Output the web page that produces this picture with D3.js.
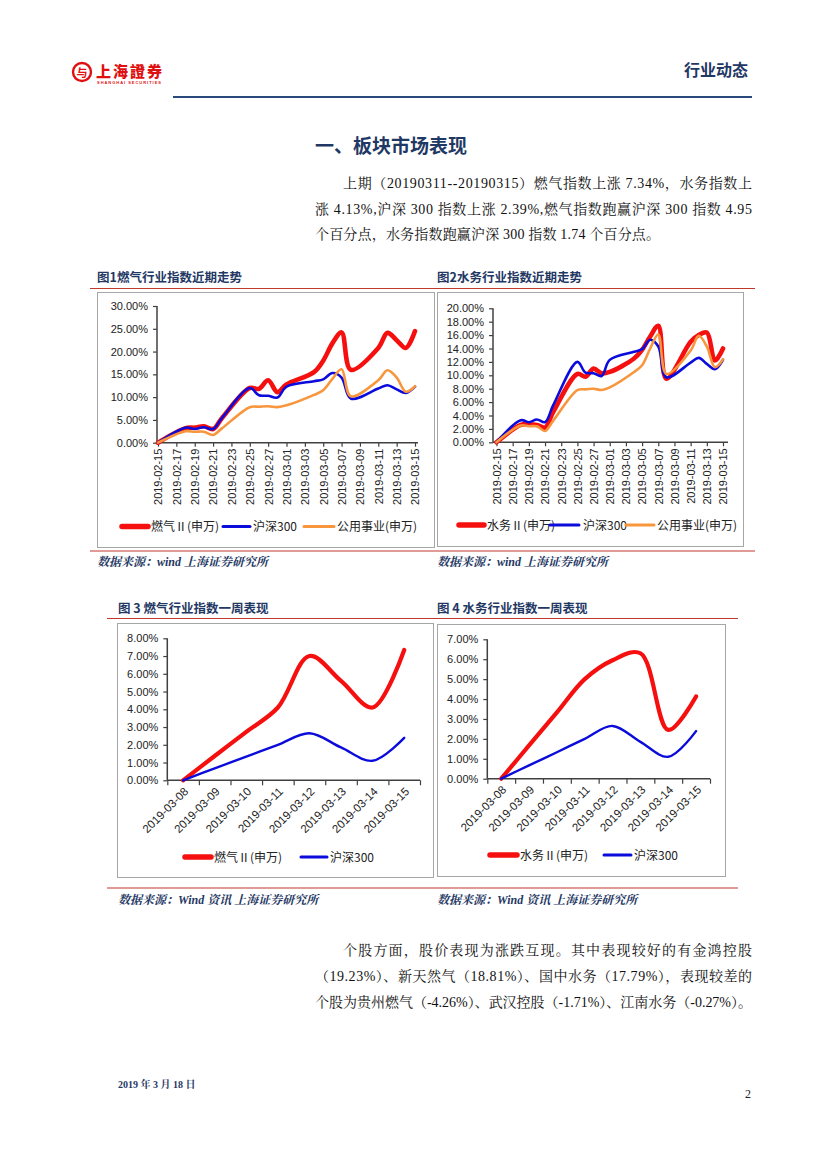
<!DOCTYPE html>
<html><head><meta charset="utf-8">
<script src="https://cdn.jsdelivr.net/npm/d3@7"></script>
<style>body{margin:0;background:#fff}</style>
</head><body><svg id="page" width="827" height="1169"></svg>
<script>
// ---------- data ----------
const trendDates = ["2019-02-15","2019-02-18","2019-02-19","2019-02-20","2019-02-21","2019-02-22","2019-02-25","2019-02-26","2019-02-27","2019-02-28","2019-03-01","2019-03-04","2019-03-05","2019-03-06","2019-03-07","2019-03-08","2019-03-11","2019-03-12","2019-03-13","2019-03-14","2019-03-15"];
const gasTrend   = [0, 3.2, 3.3, 3.6, 3.0, 5.5, 12.0, 11.8, 13.7, 11.1, 12.8, 15.5, 18.0, 21.8, 24.2, 16.0, 20.8, 24.1, 22.5, 20.8, 24.5];
const hs300Trend = [0, 3.3, 3.0, 3.4, 3.0, 5.5, 12.0, 10.4, 10.3, 9.9, 12.3, 13.5, 13.9, 15.3, 14.3, 9.7, 11.9, 12.6, 11.7, 10.9, 12.3];
const utilTrend  = [0, 2.5, 2.4, 2.4, 1.7, 3.2, 7.8, 7.9, 8.0, 7.8, 8.2, 10.5, 11.5, 14.0, 16.1, 10.2, 13.7, 15.9, 14.3, 11.2, 12.4];
const waterTrend = [0, 2.6, 2.7, 2.6, 2.2, 4.5, 10.2, 9.8, 11.0, 10.3, 10.5, 12.5, 13.8, 15.8, 17.4, 9.5, 15.0, 16.0, 16.4, 12.2, 14.0];

const weekDates = ["2019-03-08","2019-03-09","2019-03-10","2019-03-11","2019-03-12","2019-03-13","2019-03-14","2019-03-15"];
const gasWeek   = [0, 1.37, 2.73, 4.1, 7.0, 5.6, 4.1, 7.34];
const hs300Week = [0, 0.67, 1.33, 2.0, 2.65, 1.85, 1.1, 2.39];
const waterWeek = [0, 1.67, 3.33, 5.0, 5.95, 6.3, 2.45, 4.13];

const yTicks1 = [0, 5, 10, 15, 20, 25, 30];
const yTicks2 = [0, 2, 4, 6, 8, 10, 12, 14, 16, 18, 20];
const yTicks3 = [0, 1, 2, 3, 4, 5, 6, 7, 8];
const yTicks4 = [0, 1, 2, 3, 4, 5, 6, 7];

const legend1 = ["燃气Ⅱ(申万)", "沪深300", "公用事业(申万)"];
const legend2 = ["水务Ⅱ(申万)", "沪深300", "公用事业(申万)"];
const legend3 = ["燃气Ⅱ(申万)", "沪深300"];
const legend4 = ["水务Ⅱ(申万)", "沪深300"];

// ---------- styles ----------
const RED = "#F50F0F", BLUE = "#0B0BDB", ORANGE = "#F7963C";
const NAVY = "#1F3864";
const AX = "#404040";
const LAT = "'Liberation Sans', Arial, 'Noto Sans CJK SC', sans-serif";
const SER = "'Liberation Serif', 'Noto Serif CJK SC', 'Noto Sans CJK SC', serif";
const CJK = "'Noto Sans CJK SC', sans-serif";

const svg = d3.select("#page");
const parse = d3.timeParse("%Y-%m-%d");

// ---------- header ----------
const logo = svg.append("g");
logo.append("circle").attr("cx", 82).attr("cy", 72).attr("r", 9).attr("fill", "none").attr("stroke", "#E01010").attr("stroke-width", 2.4);
logo.append("text").attr("x", 82).attr("y", 76.5).attr("text-anchor", "middle").attr("font-family", CJK).attr("font-weight", "bold").attr("font-size", 11).attr("fill", "#E01010").text("与");
logo.append("text").attr("x", 96).attr("y", 77).attr("font-family", "'Noto Sans CJK TC', sans-serif").attr("font-weight", "900").attr("font-size", 15).attr("fill", "#E01010").attr("textLength", 66).text("上海證券");
logo.append("text").attr("x", 97).attr("y", 84).attr("font-family", LAT).attr("font-weight", "bold").attr("font-size", 4).attr("fill", "#E01010").attr("textLength", 64).text("SHANGHAI SECURITIES");
svg.append("text").attr("x", 748).attr("y", 76).attr("text-anchor", "end").attr("font-family", CJK).attr("font-weight", "bold").attr("font-size", 16).attr("fill", NAVY).text("行业动态");
svg.append("line").attr("x1", 173).attr("x2", 752).attr("y1", 97).attr("y2", 97).attr("stroke", "#2A4A7B").attr("stroke-width", 2.2);

// ---------- title & paragraph ----------
svg.append("text").attr("x", 315).attr("y", 153).attr("font-family", CJK).attr("font-weight", "bold").attr("font-size", 19).attr("fill", NAVY).text("一、板块市场表现");

function para(x, y, w, s) {
  const t = svg.append("text").attr("x", x).attr("y", y).attr("font-family", SER).attr("font-size", 14).attr("fill", "#111").text(s);
  if (w) t.attr("textLength", w).attr("lengthAdjust", "spacing");
}
para(343, 188, 409, "上期（20190311--20190315）燃气指数上涨 7.34%，水务指数上");
para(315, 213.5, 437, "涨 4.13%,沪深 300 指数上涨 2.39%,燃气指数跑赢沪深 300 指数 4.95");
para(315, 239, 345, "个百分点，水务指数跑赢沪深 300 指数 1.74 个百分点。");

para(343, 955, 409, "个股方面，股价表现为涨跌互现。其中表现较好的有金鸿控股");
para(315, 981, 437, "（19.23%）、新天然气（18.81%）、国中水务（17.79%），表现较差的");
para(315, 1007, 437, "个股为贵州燃气（-4.26%）、武汉控股（-1.71%）、江南水务（-0.27%）。");

// ---------- captions, rules, sources ----------
function caption(x, y, s) {
  svg.append("text").attr("x", x).attr("y", y).attr("font-family", CJK).attr("font-weight", "bold").attr("font-size", 12.5).attr("fill", NAVY).text(s);
}
function source(x, y, s) {
  svg.append("text").attr("x", x).attr("y", y).attr("font-family", SER).attr("font-weight", "bold").attr("font-style", "italic").attr("font-size", 12).attr("fill", NAVY).text(s);
}
function rule(x1, x2, y) {
  svg.append("line").attr("x1", x1).attr("x2", x2).attr("y1", y).attr("y2", y).attr("stroke", "#C0392B").attr("stroke-width", 1.2);
}
caption(97, 282, "图1燃气行业指数近期走势");
caption(437, 282, "图2水务行业指数近期走势");
rule(90, 755, 288.5);
rule(90, 755, 551);
source(97, 566, "数据来源：wind 上海证券研究所");
source(437, 566, "数据来源：wind 上海证券研究所");

caption(118, 613, "图 3 燃气行业指数一周表现");
caption(437, 613, "图 4 水务行业指数一周表现");
rule(107, 738, 618.5);
rule(107, 738, 888);
source(118, 904, "数据来源：Wind 资讯 上海证券研究所");
source(437, 904, "数据来源：Wind 资讯 上海证券研究所");

function box(x1, y1, x2, y2) {
  svg.append("rect").attr("x", x1 + 0.5).attr("y", y1 + 0.5).attr("width", x2 - x1).attr("height", y2 - y1).attr("fill", "none").attr("stroke", "#A6A6A6").attr("stroke-width", 1);
}
box(97, 292, 434, 547);
box(437, 292, 743, 546);
box(117, 623, 433, 877);
box(437, 624, 725, 876);

// ---------- legend ----------
function legend(items, y, fontSize) {
  items.forEach(it => {
    svg.append("line").attr("x1", it.x1).attr("x2", it.x2).attr("y1", y).attr("y2", y).attr("stroke", it.color).attr("stroke-width", it.w).attr("stroke-linecap", "round");
    svg.append("text").attr("x", it.tx).attr("y", y + 4.5).attr("font-family", CJK).attr("font-size", fontSize).attr("fill", "#222").text(it.label);
  });
}

function styleAxis(g, fs) {
  g.selectAll("path.domain").remove();
  g.selectAll(".tick line").attr("stroke", AX).attr("stroke-width", 1.2);
  g.selectAll("text").attr("font-family", LAT).attr("font-size", fs || 11).attr("fill", "#222");
}

// ---------- trend charts (date axis) ----------
function trendChart(cfg) {
  const dates = trendDates.map(parse);
  const x = d3.scaleTime().domain([dates[0], dates[dates.length - 1]]).range([cfg.x0, cfg.x1]);
  const y = d3.scaleLinear().domain([0, cfg.ymax]).range([cfg.y0, cfg.yTop]);
  const g = svg.append("g");

  const ya = g.append("g").attr("transform", `translate(${cfg.axisX},0)`)
    .call(d3.axisLeft(y).tickValues(cfg.yTicks).tickFormat(d => d.toFixed(2) + "%").tickSize(4).tickPadding(5));
  styleAxis(ya);
  g.append("line").attr("x1", cfg.axisX).attr("x2", cfg.axisX).attr("y1", cfg.y0).attr("y2", cfg.yTop).attr("stroke", AX).attr("stroke-width", 1.5);

  const tickDates = d3.timeDay.range(dates[0], d3.timeDay.offset(dates[dates.length - 1], 1), 2);
  const xa = g.append("g").attr("transform", `translate(0,${cfg.y0})`)
    .call(d3.axisBottom(x).tickValues(tickDates).tickFormat(d3.timeFormat("%Y-%m-%d")).tickSize(4));
  styleAxis(xa);
  xa.selectAll("text").attr("transform", "rotate(-90)").attr("x", -6).attr("y", 0).attr("dy", "0.35em").style("text-anchor", "end");
  g.append("line").attr("x1", cfg.axisX).attr("x2", cfg.axisEnd).attr("y1", cfg.y0).attr("y2", cfg.y0).attr("stroke", AX).attr("stroke-width", 1.5);

  const line = d3.line().x((d, i) => x(dates[i])).y(d => y(d)).curve(d3.curveCatmullRom.alpha(0.5));
  cfg.series.forEach(s => {
    g.append("path").datum(s.values).attr("d", line).attr("fill", "none").attr("stroke", s.color).attr("stroke-width", s.w).attr("stroke-linejoin", "round").attr("stroke-linecap", "round");
  });
}

trendChart({
  x0: 158, x1: 415, axisX: 157, axisEnd: 418, y0: 442.7, yTop: 306, ymax: 30, yTicks: yTicks1,
  series: [
    { values: gasTrend, color: RED, w: 4.6 },
    { values: hs300Trend, color: BLUE, w: 2.6 },
    { values: utilTrend, color: ORANGE, w: 2.6 }
  ]
});
legend([
  { x1: 122, x2: 148, color: RED, w: 5.5, tx: 151, label: legend1[0] },
  { x1: 223, x2: 250, color: BLUE, w: 3, tx: 253, label: legend1[1] },
  { x1: 304, x2: 334, color: ORANGE, w: 3, tx: 337, label: legend1[2] }
], 526.5, 12);

trendChart({
  x0: 496.5, x1: 723, axisX: 493, axisEnd: 728, y0: 442.3, yTop: 308.3, ymax: 20, yTicks: yTicks2,
  series: [
    { values: waterTrend, color: RED, w: 4.6 },
    { values: hs300Trend, color: BLUE, w: 2.6 },
    { values: utilTrend, color: ORANGE, w: 2.6 }
  ]
});
legend([
  { x1: 459, x2: 484, color: RED, w: 5.5, tx: 487, label: legend2[0] },
  { x1: 550, x2: 579, color: BLUE, w: 3, tx: 583, label: legend2[1] },
  { x1: 626, x2: 654, color: ORANGE, w: 3, tx: 657, label: legend2[2] }
], 525, 12);

// ---------- weekly charts (category axis) ----------
function weekChart(cfg) {
  const x = d3.scaleBand().domain(weekDates).range([cfg.axisX, cfg.axisEnd]);
  const y = d3.scaleLinear().domain([0, cfg.ymax]).range([cfg.y0, cfg.yTop]);
  const g = svg.append("g");

  const ya = g.append("g").attr("transform", `translate(${cfg.axisX},0)`)
    .call(d3.axisLeft(y).tickValues(cfg.yTicks).tickFormat(d => d.toFixed(2) + "%").tickSize(4).tickPadding(5));
  styleAxis(ya);
  g.append("line").attr("x1", cfg.axisX).attr("x2", cfg.axisX).attr("y1", cfg.y0).attr("y2", cfg.yTop).attr("stroke", AX).attr("stroke-width", 1.5);

  // boundary tick marks
  const bnd = d3.scaleLinear().domain([0, weekDates.length]).range([cfg.axisX, cfg.axisEnd]);
  const ta = g.append("g").attr("transform", `translate(0,${cfg.y0})`)
    .call(d3.axisBottom(bnd).tickValues(d3.range(weekDates.length + 1)).tickFormat("").tickSize(5));
  styleAxis(ta);
  // labels at category centres (band axis already centres ticks)
  const xa = g.append("g").attr("transform", `translate(0,${cfg.y0})`)
    .call(d3.axisBottom(x).tickSize(0));
  styleAxis(xa, 11.5);
  xa.selectAll("text").attr("x", 0).attr("y", 0).attr("dy", "0.35em").attr("transform", "translate(3,9) rotate(-45)").style("text-anchor", "end");
  g.append("line").attr("x1", cfg.axisX).attr("x2", cfg.axisEnd).attr("y1", cfg.y0).attr("y2", cfg.y0).attr("stroke", AX).attr("stroke-width", 1.5);

  const line = d3.line().x((d, i) => x(weekDates[i]) + x.bandwidth() / 2).y(d => y(d)).curve(d3.curveCatmullRom.alpha(0.5));
  cfg.series.forEach(s => {
    g.append("path").datum(s.values).attr("d", line).attr("fill", "none").attr("stroke", s.color).attr("stroke-width", s.w).attr("stroke-linejoin", "round").attr("stroke-linecap", "round");
  });
}

weekChart({
  axisX: 167.3, axisEnd: 420, y0: 780.3, yTop: 638.3, ymax: 8, yTicks: yTicks3,
  series: [
    { values: gasWeek, color: RED, w: 4.2 },
    { values: hs300Week, color: BLUE, w: 2.4 }
  ]
});
legend([
  { x1: 185, x2: 211, color: RED, w: 5.5, tx: 214, label: legend3[0] },
  { x1: 301, x2: 327, color: BLUE, w: 3, tx: 330, label: legend3[1] }
], 857, 12);

weekChart({
  axisX: 487.3, axisEnd: 710, y0: 778.7, yTop: 639.3, ymax: 7, yTicks: yTicks4,
  series: [
    { values: waterWeek, color: RED, w: 4.2 },
    { values: hs300Week, color: BLUE, w: 2.4 }
  ]
});
legend([
  { x1: 490, x2: 517, color: RED, w: 5.5, tx: 520, label: legend4[0] },
  { x1: 604, x2: 631, color: BLUE, w: 3, tx: 634, label: legend4[1] }
], 855, 12);

// ---------- footer ----------
svg.append("text").attr("x", 118).attr("y", 1088).attr("font-family", SER).attr("font-weight", "bold").attr("font-size", 10).attr("fill", NAVY).text("2019 年 3 月 18 日");
svg.append("text").attr("x", 745).attr("y", 1098).attr("font-family", SER).attr("font-size", 12).attr("fill", "#222").text("2");
</script>
</body></html>
